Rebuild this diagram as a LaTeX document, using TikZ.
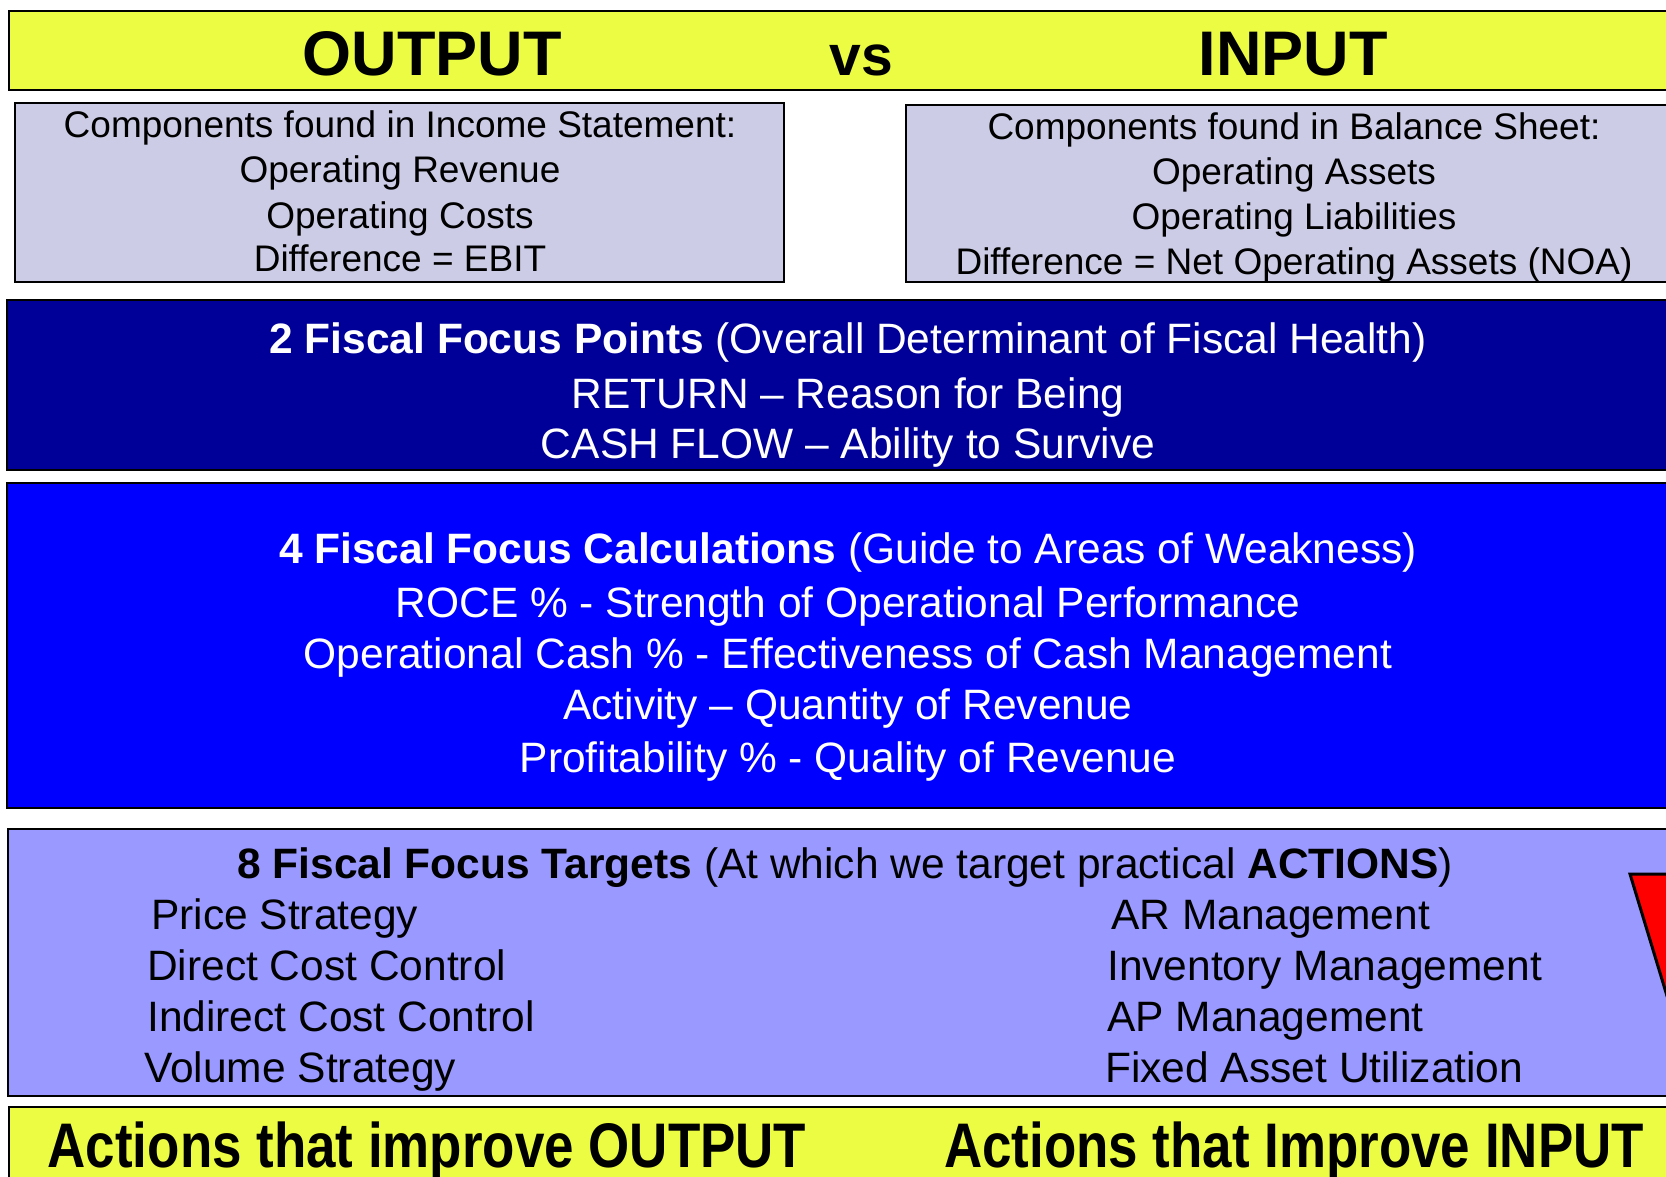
\documentclass[tikz,border=0pt]{standalone}
\usepackage{fontspec}
\setmainfont{Liberation Sans}
\newfontfamily\narrowfont[FakeStretch=0.84]{Liberation Sans}
\usepackage{tikz}
\usetikzlibrary{positioning}
\definecolor{yellow}{RGB}{235,252,66}
\definecolor{grey}{RGB}{204,204,230}
\definecolor{navy}{RGB}{0,0,153}
\definecolor{blue}{RGB}{0,0,255}
\definecolor{lilac}{RGB}{153,153,255}
\definecolor{red}{RGB}{255,0,0}

\begin{document}
\begin{tikzpicture}[x=1pt,y=-1pt,
  panel/.style={draw=black, line width=2pt},
  title/.style={anchor=base, inner sep=0pt, font=\fontsize{63}{70}\selectfont\bfseries},
  small/.style={anchor=base, inner sep=0pt, font=\fontsize{37}{44}\selectfont},
  body/.style={anchor=base, inner sep=0pt, font=\fontsize{42.5}{50}\selectfont},
  item/.style={body, anchor=base west},
  action/.style={anchor=base, inner sep=0pt, font=\narrowfont\fontsize{63}{70}\selectfont\bfseries}]

% page size
\useasboundingbox (0,0) rectangle (1666,1177);
\clip (0,0) rectangle (1666,1177);

\def\Right{1720}   % panels run past the right edge
\def\Cx{848}       % centre of the wide panels

%====================================================
% HEADER: OUTPUT vs INPUT
%====================================================
\draw[panel, fill=yellow] (9,11) rectangle (\Right,90);
\node[title] (output) at (432,76) {OUTPUT};
\node[title, font=\fontsize{57}{64}\selectfont\bfseries] (vs) at (861,76) {vs};
\node[title] (input) at (1293,76) {INPUT};

%====================================================
% Components boxes
%====================================================
\draw[panel, fill=grey] (15,103) rectangle (784,282);
\node[small] (isHead) at (400,138) {Components found in Income Statement:};
\node[small] (isRev)  at (400,183) {Operating Revenue};
\node[small] (isCost) at (400,229) {Operating Costs};
\node[small] (isDiff) at (400,272) {Difference = EBIT};

\draw[panel, fill=grey] (906,105) rectangle (\Right,282);
\node[small] (bsHead) at (1294,140) {Components found in Balance Sheet:};
\node[small] (bsAss)  at (1294,185) {Operating Assets};
\node[small] (bsLia)  at (1294,230) {Operating Liabilities};
\node[small] (bsDiff) at (1294,275) {Difference = Net Operating Assets (NOA)};

%====================================================
% 2 focus points
%====================================================
\draw[panel, fill=navy] (7,300) rectangle (\Right,470);
\node[body, text=white] (ptHead) at (\Cx,353)
  {\textbf{2 Fiscal Focus Points} (Overall Determinant of Fiscal Health)};
\node[body, text=white] (ptRet)  at (\Cx,408) {RETURN -- Reason for Being};
\node[body, text=white] (ptCash) at (\Cx,458) {CASH FLOW -- Ability to Survive};

%====================================================
% 4 focus calculations
%====================================================
\draw[panel, fill=blue] (7,483) rectangle (\Right,808);
\node[body, text=white] (calcHead) at (\Cx,563)
  {\textbf{4 Fiscal Focus Calculations} (Guide to Areas of Weakness)};
\node[body, text=white] (calcRoce) at (\Cx,617) {ROCE \% - Strength of Operational Performance};
\node[body, text=white] (calcCash) at (\Cx,668) {Operational Cash \% - Effectiveness of Cash Management};
\node[body, text=white] (calcAct)  at (\Cx,719) {Activity -- Quantity of Revenue};
\node[body, text=white] (calcProf) at (\Cx,772) {Profitability \% - Quality of Revenue};

%====================================================
% 8 focus targets
%====================================================
\draw[panel, fill=lilac] (8,829) rectangle (\Right,1096);
\node[body] (tgHead) at (845,878)
  {\textbf{8 Fiscal Focus Targets} (At which we target practical \textbf{ACTIONS})};

% output side
\node[item] (tgPrice)  at (151,929)  {Price Strategy};
\node[item] (tgDirect) at (147,980)  {Direct Cost Control};
\node[item] (tgIndir)  at (147,1031) {Indirect Cost Control};
\node[item] (tgVol)    at (144,1082) {Volume Strategy};

% input side
\node[item] (tgAR)  at (1111,929)  {AR Management};
\node[item] (tgInv) at (1107,980)  {Inventory Management};
\node[item] (tgAP)  at (1107,1031) {AP Management};
\node[item] (tgFA)  at (1105,1082) {Fixed Asset Utilization};

% arrow head
\draw[line width=3pt, fill=red] (1630,874) -- (1752,874) -- (1691,1075) -- cycle;

%====================================================
% FOOTER: actions
%====================================================
\draw[panel, fill=yellow] (9,1107) rectangle (\Right,1200);
\node[action] (actOut) at (427,1167) {Actions that improve OUTPUT};
\node[action] (actIn)  at (1294,1167) {Actions that Improve INPUT};

\end{tikzpicture}
\end{document}
